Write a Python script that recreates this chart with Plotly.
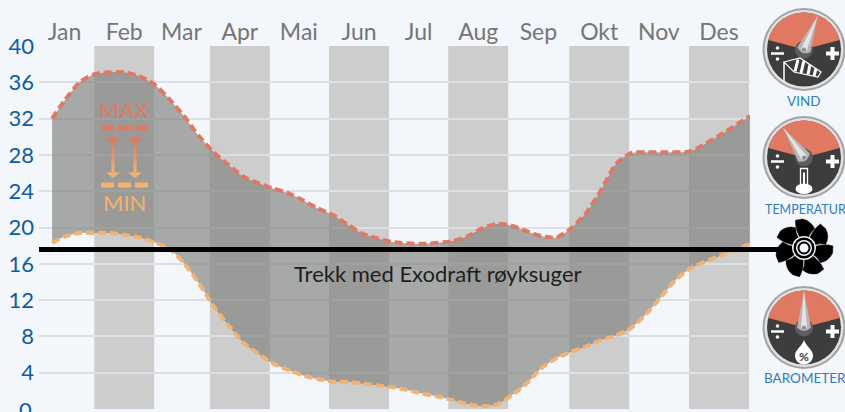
import math
import plotly.graph_objects as go

months = ["Jan","Feb","Mar","Apr","Mai","Jun","Jul","Aug","Sep","Okt","Nov","Des"]
month_pos = [1, 2, 2.96, 3.94, 4.93, 5.94, 6.94, 7.94, 8.95, 9.97, 10.97, 11.98]
y_ticks = list(range(0, 41, 4))
band_months = [2, 4, 6, 8, 10, 12]

max_x = [0.79,1.0,1.25,1.5,1.75,2.0,2.25,2.5,2.75,3.0,3.25,3.5,3.75,4.0,4.25,4.5,4.75,5.0,5.25,5.5,5.75,6.0,6.25,6.5,7.0,7.5,7.75,8.0,8.25,8.5,8.75,9.0,9.25,9.5,9.75,10.0,10.25,10.5,10.75,11.0,11.5,12.0,12.5]
max_y = [32.0,34.0,36.0,36.9,37.1,37.1,36.7,35.8,34.2,32.3,30.1,28.3,26.9,25.6,24.9,24.3,23.8,23.0,22.1,21.4,20.3,19.3,18.8,18.4,18.2,18.5,19.0,19.9,20.4,20.2,19.6,19.05,18.9,19.9,21.6,24.1,27.0,28.2,28.3,28.3,28.4,30.2,32.3]
min_x = [0.79,1.0,1.25,1.5,1.75,2.0,2.25,2.5,2.75,3.0,3.25,3.5,3.75,4.0,4.25,4.5,4.75,5.0,5.25,5.5,5.75,6.0,6.25,6.5,6.75,7.0,7.25,7.5,7.75,8.0,8.25,8.5,8.75,9.0,9.25,9.5,9.75,10.0,10.25,10.5,10.75,11.0,11.25,11.5,12.0,12.5]
min_y = [18.3,19.0,19.4,19.4,19.4,19.2,18.9,18.4,17.7,16.1,13.9,11.3,9.2,7.3,6.1,5.0,4.3,3.7,3.3,3.0,3.0,2.8,2.6,2.4,2.1,1.7,1.4,1.0,0.55,0.3,0.5,1.5,2.8,4.5,5.6,6.3,6.9,7.6,8.1,8.9,10.4,12.3,14.2,15.5,16.9,18.2]

threshold = 17.57
FONT = "Lato"
BLUE = "#0b5ca8"
GREY = "#757575"
BG = "#f3f7fb"
RED = "#e07862"
ORANGE = "#f3b26f"
LBLUE = "#2f7cc1"
DARK = "#3d3d3d"

fig = go.Figure()
fig.add_trace(go.Scatter(x=max_x, y=max_y, mode="lines", hoverinfo="skip",
    line=dict(color="rgba(0,0,0,0)", shape="spline", smoothing=0.6)))
fig.add_trace(go.Scatter(x=min_x, y=min_y, mode="lines", fill="tonexty", hoverinfo="skip",
    fillcolor="rgba(130,131,127,0.68)", line=dict(color="rgba(0,0,0,0)", shape="spline", smoothing=0.6)))
fig.add_trace(go.Scatter(x=max_x, y=max_y, mode="lines", hoverinfo="skip",
    line=dict(color=RED, width=4, dash="8px,4px", shape="spline", smoothing=0.6)))
fig.add_trace(go.Scatter(x=min_x, y=min_y, mode="lines", hoverinfo="skip",
    line=dict(color=ORANGE, width=4, dash="8px,4px", shape="spline", smoothing=0.6)))

shapes = []
for m in band_months:
    c = month_pos[m-1]
    shapes.append(dict(type="rect", xref="x", yref="y", x0=c-0.503, x1=c+0.503, y0=0, y1=40,
                       fillcolor="#cdcdcd", line_width=0, layer="below"))

def px(kind, **kw):
    d = dict(type=kind, xref="x2", yref="y2", layer="above")
    d.update(kw)
    return d

def circle(cx, cy, r, fill):
    return px("circle", x0=cx-r, x1=cx+r, y0=cy-r, y1=cy+r, fillcolor=fill, line=dict(width=0))

def pt(cx, cy, r, deg):
    a = math.radians(deg)
    return cx + r*math.sin(a), cy - r*math.cos(a)

def wl(cx0, cy0, x1, y1, color, w):
    return px("line", x0=cx0, y0=cy0, x1=x1, y1=y1, line=dict(color=color, width=w))

def gauge(cx, cy, needle):
    out = [circle(cx, cy, 41.5, "#a3a3a3"), circle(cx, cy, 39.5, "#e2e2e2"),
           circle(cx, cy, 37, DARK)]
    pts = [pt(cx, cy, 37, -75 + i*6) for i in range(26)]
    d = f"M{cx},{cy} " + " ".join(f"L{x:.1f},{y:.1f}" for x, y in pts) + " Z"
    out.append(px("path", path=d, fillcolor=RED, line=dict(width=0)))
    out.append(circle(cx, cy, 9, "#5e5e5e"))
    tip = pt(cx, cy, 37, needle); l = pt(cx, cy, 7, needle-90); r = pt(cx, cy, 7, needle+90)
    tail = pt(cx, cy, -7, needle)
    out.append(px("path", path=f"M{tip[0]:.1f},{tip[1]:.1f} L{l[0]:.1f},{l[1]:.1f} Q{tail[0]:.1f},{tail[1]:.1f} {r[0]:.1f},{r[1]:.1f} Z",
                  fillcolor="#b5b5b5", line=dict(width=0)))
    l2 = pt(cx, cy, 3, needle-90); r2 = pt(cx, cy, 3, needle+90)
    out.append(px("path", path=f"M{tip[0]:.1f},{tip[1]:.1f} L{l2[0]:.1f},{l2[1]:.1f} L{r2[0]:.1f},{r2[1]:.1f} Z",
                  fillcolor="#e4e4e4", line=dict(width=0)))
    out.append(circle(cx, cy, 2, "#8c8c8c"))
    # divide and plus
    out.append(wl(cx-33, cy+4, cx-20, cy+4, "white", 2.5))
    out.append(circle(cx-26.5, cy-1.5, 1.8, "white"))
    out.append(circle(cx-26.5, cy+9.5, 1.8, "white"))
    out.append(wl(cx+22, cy+4, cx+35, cy+4, "white", 4))
    out.append(wl(cx+28.5, cy-2.5, cx+28.5, cy+10.5, "white", 4))
    return out

VIND = (804, 49.5); TEMP = (804, 157.5); BARO = (804, 327.5)
shapes += gauge(VIND[0], VIND[1], 22) + gauge(TEMP[0], TEMP[1], -35) + gauge(BARO[0], BARO[1], 0)

# wind sock
sx, sy = VIND
shapes.append(wl(sx-20, sy+12.5, sx-20, sy+32.5, "white", 1.5))
shapes.append(px("path", path=f"M{sx-20},{sy+12.5} L{sx-4},{sy+8.5} L{sx+17},{sy+22.5} L{sx+14},{sy+27.5} L{sx-10},{sy+22.5} Z",
                 fillcolor=DARK, line=dict(color="white", width=1.2)))
for a, b, c, e in [(-6,10,-9,22),(0,11,-3,23.5),(6,15,4,25),(12,19,10,26.5)]:
    shapes.append(wl(sx+a, sy+b, sx+c, sy+e, "white", 3))
# thermometer
tx, ty = TEMP
shapes.append(px("rect", x0=tx-3.5, x1=tx+3.5, y0=ty+11, y1=ty+29, fillcolor=DARK, line=dict(color="white", width=1.3)))
shapes.append(px("circle", x0=tx-8.5, x1=tx+8.5, y0=ty+26, y1=ty+36.5, fillcolor="white", line=dict(width=0)))
shapes.append(wl(tx, ty+15, tx, ty+28, "white", 2))
# drop
bx, by = BARO
shapes.append(px("path", path=(f"M{bx},{by+12.5} C{bx+2},{by+19} {bx+9},{by+22} {bx+9},{by+28} "
                               f"C{bx+9},{by+33} {bx+5},{by+37} {bx},{by+37} "
                               f"C{bx-5},{by+37} {bx-9},{by+33} {bx-9},{by+28} "
                               f"C{bx-9},{by+22} {bx-2},{by+19} {bx},{by+12.5} Z"),
                 fillcolor="white", line=dict(width=0)))

# fan: seven broad swept blades
fx, fy = 804, 248
for k in range(7):
    base = k*360/7 - 9
    p0 = pt(fx, fy, 8, base-8); p1 = pt(fx, fy, 29, base-8); p2 = pt(fx, fy, 29, base+6); p3 = pt(fx, fy, 22, base+38)
    p4 = pt(fx, fy, 8, base+46); c1 = pt(fx, fy, 20, base-18); c2 = pt(fx, fy, 28, base+24); c3 = pt(fx, fy, 13, base+22)
    shapes.append(px("path", path=(f"M{p0[0]:.1f},{p0[1]:.1f} Q{c1[0]:.1f},{c1[1]:.1f} {p1[0]:.1f},{p1[1]:.1f} "
                                   f"L{p2[0]:.1f},{p2[1]:.1f} Q{c2[0]:.1f},{c2[1]:.1f} {p3[0]:.1f},{p3[1]:.1f} "
                                   f"Q{c3[0]:.1f},{c3[1]:.1f} {p4[0]:.1f},{p4[1]:.1f} Z"),
                     fillcolor="black", line=dict(color="black", width=0.5)))

# threshold
shapes.append(dict(type="line", xref="x2", yref="y", x0=39, x1=795, y0=threshold, y1=threshold,
                   line=dict(color="black", width=5), layer="above"))
shapes.append(circle(fx, fy, 12, BG))
shapes.append(circle(fx, fy, 10.5, "black"))
shapes.append(circle(fx, fy, 8, BG))
shapes.append(circle(fx, fy, 6.5, "black"))
shapes.append(circle(fx, fy, 4.5, BG))

# legend glyph
shapes.append(wl(101, 128, 148, 128, RED, 5))
shapes[-1]["line"]["dash"] = "13px,4px"
shapes.append(wl(101, 185, 148, 185, ORANGE, 5))
shapes[-1]["line"]["dash"] = "13px,4px"
top = (224, 120, 98); bot = (243, 178, 111)
for ax_x in (113, 135):
    n = 12
    for i in range(n):
        t = i/(n-1)
        col = "rgb(%d,%d,%d)" % tuple(round(top[j] + (bot[j]-top[j])*t) for j in range(3))
        shapes.append(wl(ax_x, 139 + i*3, ax_x, 142.5 + i*3, col, 3))
    shapes.append(px("path", path=f"M{ax_x},135.5 L{ax_x+7},141 L{ax_x-7},141 Z", fillcolor=RED, line=dict(width=0)))
    shapes.append(px("path", path=f"M{ax_x},178 L{ax_x+7},172.5 L{ax_x-7},172.5 Z", fillcolor=ORANGE, line=dict(width=0)))

annotations = [
    dict(xref="x", yref="y", x=7.27, y=14.98, text="Trekk med Exodraft røyksuger", showarrow=False,
         font=dict(family=FONT, size=22, color="#1e1e1e")),
    dict(xref="x2", yref="y2", x=124, y=109, text="MAX", showarrow=False, font=dict(family=FONT, size=22, color=RED)),
    dict(xref="x2", yref="y2", x=124, y=202, text="MIN", showarrow=False, font=dict(family=FONT, size=22, color=ORANGE)),
    dict(xref="x2", yref="y2", x=804, y=101, text="VIND", showarrow=False, font=dict(family=FONT, size=13.5, color=LBLUE)),
    dict(xref="x2", yref="y2", x=763, xanchor="left", y=209, text="TEMPERATUR", showarrow=False, font=dict(family=FONT, size=12.5, color=LBLUE)),
    dict(xref="x2", yref="y2", x=804.5, y=378, text="BAROMETER", showarrow=False, font=dict(family=FONT, size=13.5, color=LBLUE)),
    dict(xref="x2", yref="y2", x=bx, y=by+28.5, text="<b>%</b>", showarrow=False, font=dict(family=FONT, size=12, color=DARK)),
    dict(xref="x2", yref="y", x=33.5, y=0, xanchor="right", xshift=0, text="0", showarrow=False, font=dict(family=FONT, size=22, color=BLUE)),
]

fig.update_layout(
    width=845, height=412, margin=dict(l=0, r=0, t=0, b=0),
    paper_bgcolor=BG, plot_bgcolor="rgba(0,0,0,0)", showlegend=False, shapes=shapes, annotations=annotations,
    font=dict(family=FONT),
    xaxis=dict(domain=[39/845, 750/845], range=[0.57, 12.5], side="top", tickvals=month_pos, ticktext=months,
               automargin=False, showgrid=False, zeroline=False, showline=False, ticks="", tickfont=dict(size=23, color=GREY), ticklabelstandoff=0),
    yaxis=dict(domain=[3/412, 366/412], range=[0, 40], tickvals=y_ticks, showgrid=True, gridcolor="#dde0e3", gridwidth=1.5,
               automargin=False, zeroline=False, showline=False, ticks="", tickfont=dict(size=22, color=BLUE), ticklabelstandoff=4),
    xaxis2=dict(domain=[0, 1], range=[0, 845], visible=False, anchor="y2", automargin=False),
    yaxis2=dict(domain=[0, 1], range=[412, 0], visible=False, anchor="x2", automargin=False),
)
fig.add_trace(go.Scatter(x=[0], y=[0], xaxis="x2", yaxis="y2", mode="markers", marker=dict(opacity=0), hoverinfo="skip"))
fig.write_html("out.html", config=dict(displayModeBar=False), post_script="document.body.style.margin='0';")
